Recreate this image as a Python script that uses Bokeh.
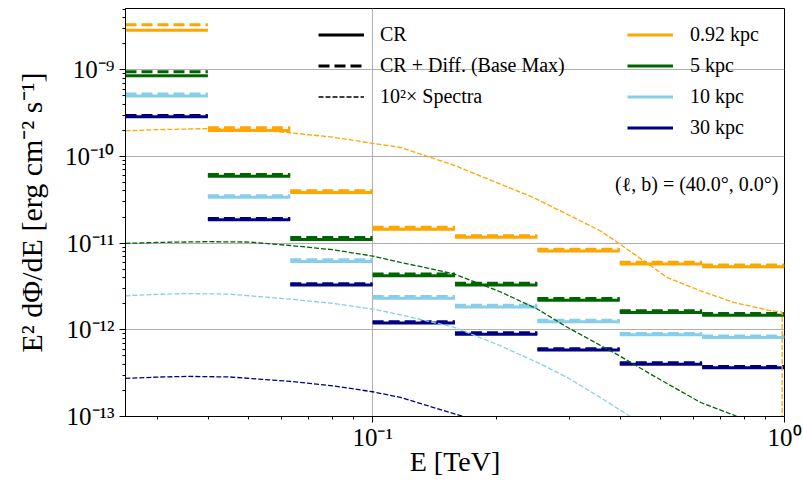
from bokeh.plotting import figure
from bokeh.models import (ColumnDataSource, FixedTicker, CustomJSTickFormatter,
                          Legend, LegendItem, Label)
from bokeh.embed import file_html
from bokeh.resources import INLINE

# ---- energy bins (TeV) ----
e_lo = [0.025119, 0.039811, 0.063096, 0.1, 0.158489, 0.251189, 0.398107, 0.630957]
e_hi = [0.039811, 0.063096, 0.1, 0.158489, 0.251189, 0.398107, 0.630957, 1.0]

# ---- CR only (solid) and CR + Diff. (Base Max) (dashed), erg cm^-2 s^-1 ----
cr_092 = [2.87e-9, 2.0e-10, 3.85e-11, 1.45e-11, 1.17e-11, 8.1e-12, 5.75e-12, 5.35e-12]
df_092 = [3.31e-9, 2.15e-10, 4.02e-11, 1.53e-11, 1.22e-11, 8.5e-12, 6.02e-12, 5.6e-12]
cr_5 = [8.53e-10, 5.9e-11, 1.1e-11, 4.2e-12, 3.28e-12, 2.19e-12, 1.58e-12, 1.47e-12]
df_5 = [9.48e-10, 6.2e-11, 1.16e-11, 4.42e-12, 3.44e-12, 2.3e-12, 1.66e-12, 1.54e-12]
cr_10 = [5.0e-10, 3.38e-11, 6.15e-12, 2.32e-12, 1.84e-12, 1.24e-12, 8.75e-13, 8.15e-13]
df_10 = [5.25e-10, 3.52e-11, 6.45e-12, 2.43e-12, 1.92e-12, 1.29e-12, 9.1e-13, 8.5e-13]
cr_30 = [2.88e-10, 1.86e-11, 3.28e-12, 1.2e-12, 8.9e-13, 5.85e-13, 4.02e-13, 3.65e-13]
df_30 = [2.97e-10, 1.93e-11, 3.4e-12, 1.24e-12, 9.25e-13, 6.05e-13, 4.17e-13, 3.78e-13]

# ---- 10^2 x spectra (thin dashed curves) ----
sp_E_092 = [0.0251, 0.03, 0.0398, 0.05, 0.0631, 0.08, 0.1, 0.117, 0.158, 0.17, 0.2455,
            0.357, 0.393, 0.473, 0.52, 0.625, 0.753, 0.91, 0.987, 0.987]
sp_F_092 = [1.98e-10, 2.04e-10, 2.1e-10, 2.05e-10, 1.88e-10, 1.67e-10, 1.42e-10, 1.27e-10,
            7.9e-11, 6.84e-11, 3.37e-11, 1.39e-11, 1.02e-11, 5.5e-12, 4.0e-12, 2.82e-12,
            2.07e-12, 1.69e-12, 1.6e-12, 1e-16]
sp_E_5 = [0.0251, 0.03, 0.0398, 0.05, 0.0631, 0.08, 0.1, 0.1168, 0.135, 0.158, 0.204, 0.251,
          0.297, 0.398, 0.473, 0.626, 0.753, 0.85]
sp_F_5 = [9.93e-12, 1.02e-11, 1.04e-11, 1.03e-11, 9.4e-12, 8.4e-12, 7.1e-12, 6.0e-12,
          5.2e-12, 4.4e-12, 2.75e-12, 1.74e-12, 1.07e-12, 5.0e-13, 3.08e-13, 1.45e-13,
          1.04e-13, 8e-14]
sp_E_10 = [0.0251, 0.03, 0.0355, 0.045, 0.0631, 0.08, 0.1, 0.1168, 0.158, 0.204, 0.251,
           0.297, 0.357, 0.422, 0.45]
sp_F_10 = [2.47e-12, 2.57e-12, 2.62e-12, 2.58e-12, 2.26e-12, 2.02e-12, 1.74e-12, 1.49e-12,
           1.07e-12, 6.56e-13, 4.21e-13, 2.82e-13, 1.66e-13, 1.0e-13, 8e-14]
sp_E_30 = [0.0251, 0.03, 0.0355, 0.045, 0.0631, 0.08, 0.1, 0.1168, 0.166, 0.19]
sp_F_30 = [2.75e-13, 2.85e-13, 2.9e-13, 2.86e-13, 2.54e-13, 2.26e-13, 1.93e-13, 1.66e-13,
           1.0e-13, 8e-14]

labels = ["0.92 kpc", "5 kpc", "10 kpc", "30 kpc"]
colors = ["#FFA500", "#006400", "#87CEEB", "#000080"]
cr_sets = [cr_092, cr_5, cr_10, cr_30]
df_sets = [df_092, df_5, df_10, df_30]
sp_sets = [(sp_E_092, sp_F_092), (sp_E_5, sp_F_5), (sp_E_10, sp_F_10), (sp_E_30, sp_F_30)]

x_ticks = [0.1, 1.0]
x_minor = [k * 10.0 ** n for n in (-2, -1) for k in range(2, 10)]
y_ticks = [10.0 ** n for n in range(-13, -8)]
y_minor = [k * 10.0 ** n for n in range(-13, -8) for k in range(2, 10)]

FONT = "Liberation Serif"

p = figure(width=803, height=483, x_axis_type="log", y_axis_type="log",
           x_range=(0.025119, 1.0), y_range=(1e-13, 5.1e-9),
           output_backend="svg", toolbar_location=None, title=None,
           min_border_left=125, min_border_right=19, min_border_top=8,
           min_border_bottom=67)

p.xaxis.ticker = FixedTicker(ticks=x_ticks, minor_ticks=x_minor)
p.yaxis.ticker = FixedTicker(ticks=y_ticks, minor_ticks=y_minor)
p.xgrid.ticker = FixedTicker(ticks=x_ticks)
p.ygrid.ticker = FixedTicker(ticks=y_ticks)

fmt_code = """
const sup = {"-": "\u207b", "0": "\u2070", "1": "\u00b9", "2": "\u00b2", "3": "\u00b3",
             "4": "\u2074", "5": "\u2075", "6": "\u2076", "7": "\u2077", "8": "\u2078", "9": "\u2079"};
const e = Math.round(Math.log10(tick));
return "10" + String(e).split("").map(c => sup[c]).join("");
"""
for ax in (p.xaxis[0], p.yaxis[0]):
    ax.formatter = CustomJSTickFormatter(code=fmt_code)
    ax.major_label_text_font = FONT
    ax.major_label_text_font_size = "25px"
    ax.major_label_text_color = "black"
    ax.axis_label_text_font = FONT
    ax.axis_label_text_font_size = "28px"
    ax.axis_label_text_font_style = "normal"
    ax.axis_label_text_color = "black"
    ax.axis_line_color = "black"
    ax.major_tick_line_color = "black"
    ax.minor_tick_line_color = "black"
    ax.major_tick_in = 0
    ax.major_tick_out = 6
    ax.minor_tick_in = 0
    ax.minor_tick_out = 3

p.xaxis.axis_label = "E [TeV]"
p.yaxis.axis_label = "E\u00b2 d\u03a6/dE [erg cm\u207b\u00b2 s\u207b\u00b9]"
p.yaxis.axis_label_text_font_size = "30px"
p.xaxis.major_label_standoff = 1
p.xaxis.axis_label_standoff = -8
p.yaxis.major_label_standoff = 5
p.yaxis.axis_label_standoff = 14

p.grid.grid_line_color = "#b0b0b0"
p.grid.grid_line_width = 1
p.outline_line_color = "black"
p.outline_line_alpha = 1
p.outline_line_width = 1

color_items = []
for lab, col, cr, df in zip(labels, colors, cr_sets, df_sets):
    src_cr = ColumnDataSource(dict(x0=e_lo, x1=e_hi, y=cr))
    src_df = ColumnDataSource(dict(x0=e_lo, x1=e_hi, y=df))
    r = p.segment(x0="x0", y0="y", x1="x1", y1="y", source=src_cr,
                  line_color=col, line_width=3)
    p.segment(x0="x0", y0="y", x1="x1", y1="y", source=src_df,
              line_color=col, line_width=3, line_dash="11 5")
    color_items.append(LegendItem(label=lab, renderers=[r]))

for col, (E, F) in zip(colors, sp_sets):
    p.line(x=E, y=F, line_color=col, line_width=1.3, line_dash="5 2")

# legend proxies for line styles (no visible data)
nan = float("nan")
r_cr = p.line(x=[nan], y=[nan], line_color="black", line_width=3)
r_df = p.line(x=[nan], y=[nan], line_color="black", line_width=3, line_dash="11 5")
r_sp = p.line(x=[nan], y=[nan], line_color="black", line_width=1.3, line_dash="5 2")

common = dict(border_line_color=None, background_fill_alpha=0, padding=0, margin=0,
              spacing=8, glyph_width=46, glyph_height=23, label_height=23,
              label_text_font=FONT, label_text_font_size="20px", label_text_color="black")
leg1 = Legend(items=[LegendItem(label="CR", renderers=[r_cr]),
                     LegendItem(label="CR + Diff. (Base Max)", renderers=[r_df]),
                     LegendItem(label="10\u00b2\u00d7 Spectra", renderers=[r_sp])],
              location=(193, 308), label_standoff=16, **common)
leg2 = Legend(items=color_items, location=(502, 277), label_standoff=17, **common)
p.add_layout(leg1)
p.add_layout(leg2)

p.add_layout(Label(x=653, y=233, x_units="screen", y_units="screen",
                   text="(\u2113, b) = (40.0\u00b0, 0.0\u00b0)", text_align="right",
                   text_baseline="middle", text_font=FONT, text_font_size="20px",
                   text_color="black"))

with open("out.html", "w", encoding="utf-8") as f:
    f.write(file_html(p, INLINE))
